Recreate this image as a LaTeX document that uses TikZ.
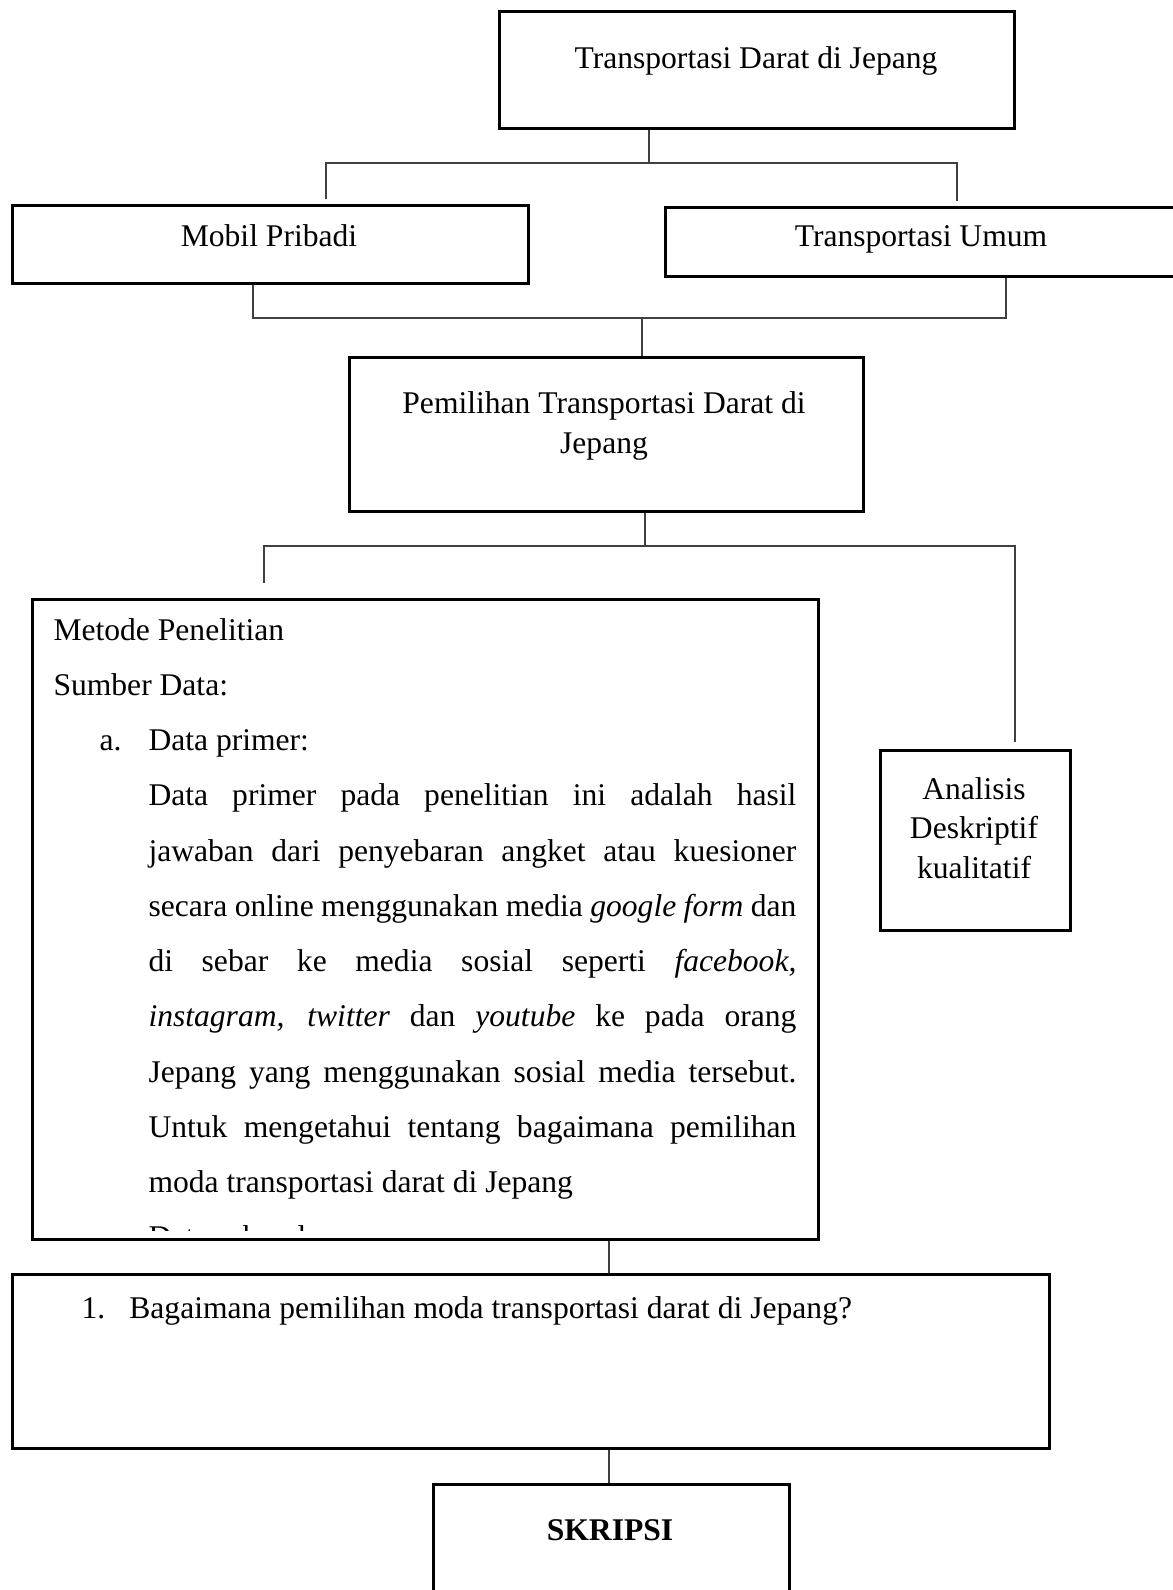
\documentclass[tikz,border=0pt]{standalone}
\usepackage{fontspec}
\setmainfont{Liberation Serif}

\def\pxu{0.38pt}

\begin{document}
\begin{tikzpicture}[x=\pxu, y=-\pxu,
                    font=\fontsize{12pt}{15pt}\selectfont,
                    boxnode/.style={draw, line width=1pt, inner sep=0pt, anchor=north west},
                    link/.style={draw=black!75, line width=0.45pt},
                    txt/.style={inner sep=0pt, anchor=base}
                   ]

        \useasboundingbox (0,0) rectangle (1173,1590);

        % kotak
        \node[boxnode, minimum width=515*\pxu, minimum height=117*\pxu] (judul) at (498,10) {};
        \node[boxnode, minimum width=516*\pxu, minimum height=78*\pxu] (mobil) at (11,204) {};
        \node[boxnode, minimum width=512*\pxu, minimum height=69*\pxu] (umum) at (664,206) {};
        \node[boxnode, minimum width=514*\pxu, minimum height=154*\pxu] (pemilihan) at (348,356) {};
        \node[boxnode, minimum width=786*\pxu, minimum height=640*\pxu] (metode) at (31,598) {};
        \node[boxnode, minimum width=190*\pxu, minimum height=180*\pxu] (analisis) at (879,749) {};
        \node[boxnode, minimum width=1037*\pxu, minimum height=174*\pxu] (rumusan) at (11,1273) {};
        \node[boxnode, minimum width=356*\pxu, minimum height=130*\pxu] (skripsi) at (432,1483) {};

        % teks (base = baris terakhir)
        \node[txt] (judulT) at (756,68) {Transportasi Darat di Jepang};
        \node[txt] (mobilT) at (269,246) {Mobil Pribadi};
        \node[txt] (umumT) at (921,246) {Transportasi Umum};
        \node[txt, align=center] (pemilihanT) at (604,453) {Pemilihan Transportasi Darat di\\Jepang};
        \node[txt, align=center] (analisisT) at (974,878) {Analisis\\Deskriptif\\kualitatif};
        \node[txt, anchor=base west] (rumusanT) at (81,1318)
          {\makebox[18.2pt][l]{1.}Bagaimana pemilihan moda transportasi darat di Jepang?};
        \node[txt, font=\fontsize{12pt}{15pt}\selectfont\bfseries] (skripsiT) at (610,1540) {SKRIPSI};

        \begin{scope}
          \clip (metode.north west) rectangle ([yshift=4pt]metode.south east);
          \node[inner sep=0pt, anchor=base west] (metodeT) at (53,640) {%
            \begin{minipage}[t]{282.3pt}
              \fontsize{12pt}{21pt}\selectfont\parindent=0pt
              Metode Penelitian\par
              Sumber Data:\par
              \hspace*{17.5pt}\makebox[18.6pt][l]{a.}Data primer:\par
              {\leftskip=36.1pt \tolerance=10000 \hyphenpenalty=10000
              Data primer pada penelitian ini adalah hasil\linebreak
              jawaban dari penyebaran angket atau kuesioner\linebreak
              secara online menggunakan media \textit{google form} dan\linebreak
              di sebar ke media sosial seperti \textit{facebook,}\linebreak
              \textit{instagram, twitter} dan \textit{youtube} ke pada orang\linebreak
              Jepang yang menggunakan sosial media tersebut.\linebreak
              Untuk mengetahui tentang bagaimana pemilihan\linebreak
              moda transportasi darat di Jepang\par
              Data sekunder\par}
            \end{minipage}};
        \end{scope}

        % garis penghubung
        \coordinate (c1) at (649,163);
        \coordinate (c1l) at (326,199);
        \coordinate (c1r) at (957,201);
        \draw[link] (judul.south -| c1) -- (c1);
        \draw[link] (c1l) |- (c1) -| (c1r);

        \coordinate (c2) at (642,318);
        \coordinate (c2l) at (253,318);
        \coordinate (c2r) at (1006,318);
        \draw[link] (mobil.south -| c2l) -- (c2l) -- (c2r) -- (umum.south -| c2r);
        \draw[link] (c2) -- (pemilihan.north -| c2);

        \coordinate (c3) at (645,546);
        \coordinate (c3l) at (264,583);
        \coordinate (c3r) at (1015,742);
        \draw[link] (pemilihan.south -| c3) -- (c3);
        \draw[link] (c3l) |- (c3) -| (c3r);

        \coordinate (c4) at (609,1260);
        \draw[link] (metode.south -| c4) -- (rumusan.north -| c4);
        \draw[link] (rumusan.south -| c4) -- (skripsi.north -| c4);
    \end{tikzpicture}
\end{document}
